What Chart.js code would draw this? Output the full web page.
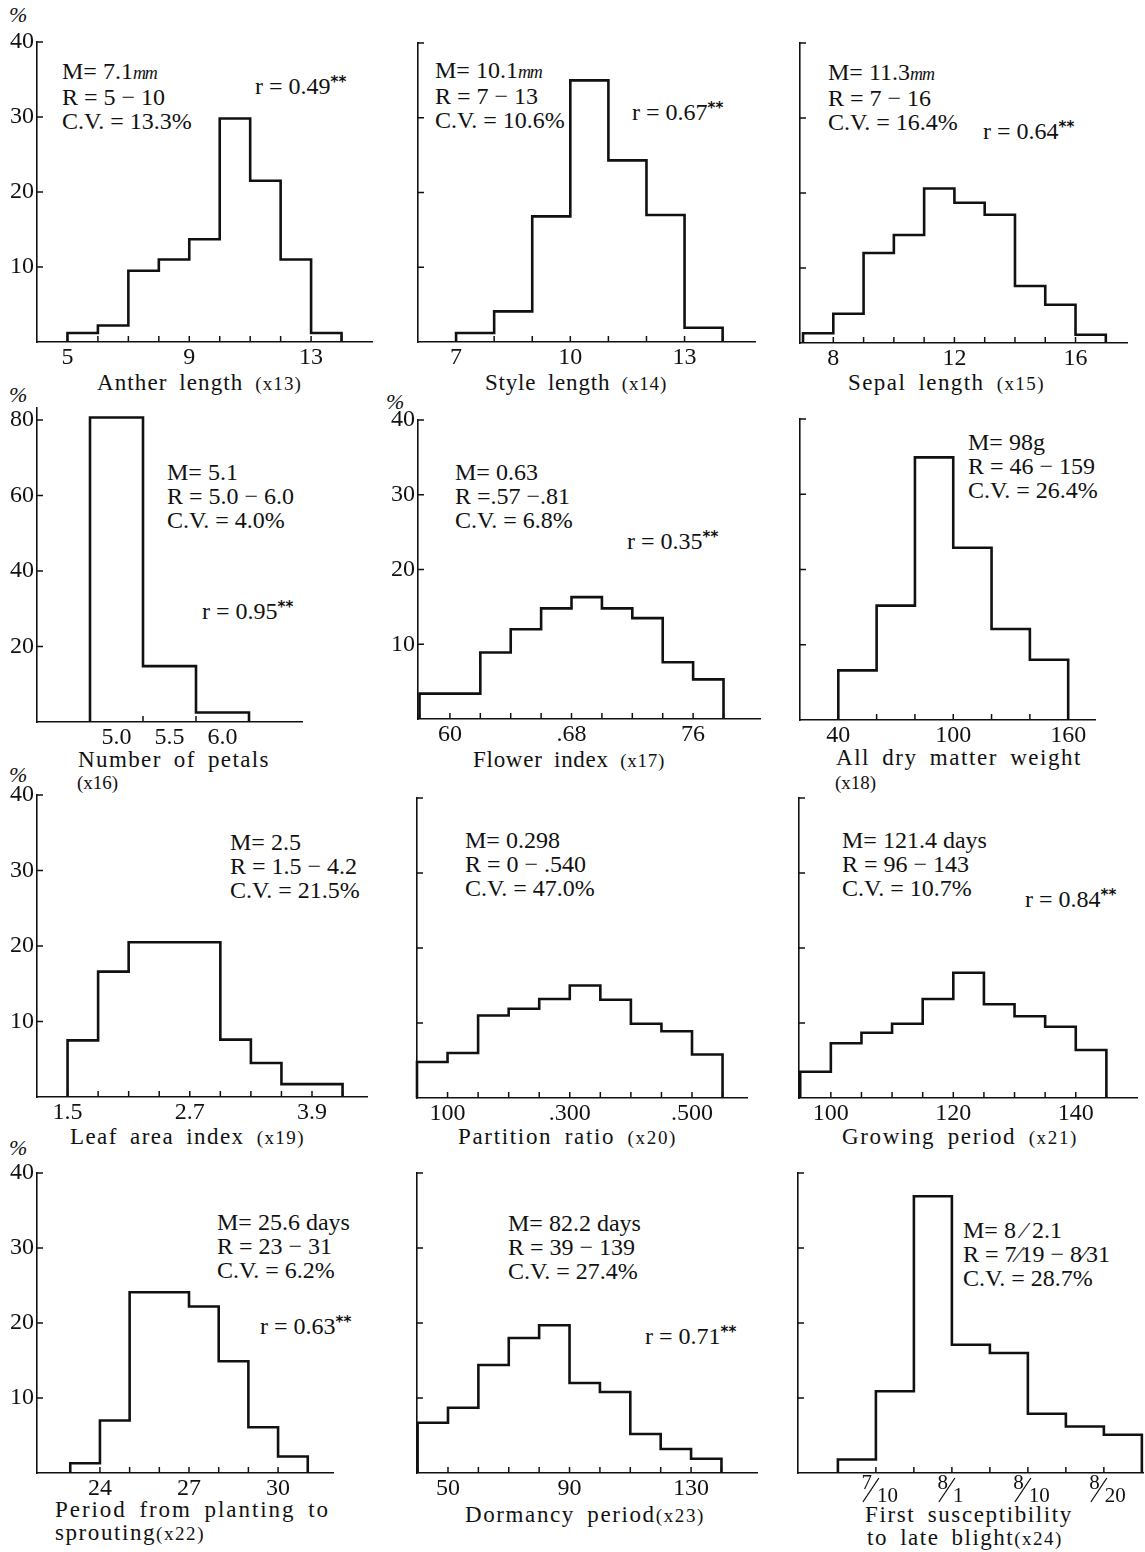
<!DOCTYPE html>
<html>
<head>
<meta charset="utf-8">
<title>Frequency distributions x13 - x24</title>
<script src="https://cdn.jsdelivr.net/npm/chart.js@4.4.0/dist/chart.umd.min.js"></script>
<style>
  body { margin: 0; background: #fff; width: 1145px; height: 1552px; position: relative; overflow: hidden;
         font-family: "Liberation Serif", "DejaVu Serif", serif; color: #111; }
  canvas { position: absolute; }
  .txt { position: absolute; white-space: nowrap; font-size: 24px; line-height: 24px; }
  .xt { position: absolute; white-space: nowrap; font-size: 23px; line-height: 24px; word-spacing: 5px; }
  .xt small { font-size: 19px; }
  .pct { position: absolute; font-size: 22px; font-style: italic; }
  .star { font-family: "DejaVu Sans", sans-serif; font-weight: bold; font-size: 15px; vertical-align: 7px; }
  .mm { font-style: italic; font-size: 18px; letter-spacing: -1px; }
</style>
</head>
<body>

<div class="pct" style="left:9px;top:2px">%</div>
<div class="pct" style="left:9px;top:382px">%</div>
<div class="pct" style="left:386px;top:389px">%</div>
<div class="pct" style="left:9px;top:762px">%</div>
<div class="pct" style="left:9px;top:1135px">%</div>

<!-- row 1 -->
<div class="txt" style="left:62px;top:59px">M= 7.1<span class="mm">mm</span><br>R = 5 − 10<br>C.V. = 13.3%</div>
<div class="txt" style="left:255px;top:70px">r = 0.49<span class="star">**</span></div>
<div class="txt" style="left:435px;top:58px">M= 10.1<span class="mm">mm</span><br>R = 7 − 13<br>C.V. = 10.6%</div>
<div class="txt" style="left:632px;top:96px">r = 0.67<span class="star">**</span></div>
<div class="txt" style="left:828px;top:60px">M= 11.3<span class="mm">mm</span><br>R = 7 − 16<br>C.V. = 16.4%</div>
<div class="txt" style="left:983px;top:115px">r = 0.64<span class="star">**</span></div>

<div class="xt" data-w="205" style="left:97px;top:371px">Anther length <small>(x13)</small></div>
<div class="xt" data-w="182" style="left:485px;top:371px">Style length <small>(x14)</small></div>
<div class="xt" data-w="197" style="left:848px;top:371px">Sepal length <small>(x15)</small></div>

<!-- row 2 -->
<div class="txt" style="left:167px;top:460px">M= 5.1<br>R = 5.0 − 6.0<br>C.V. = 4.0%</div>
<div class="txt" style="left:202px;top:595px">r = 0.95<span class="star">**</span></div>
<div class="txt" style="left:455px;top:460px">M= 0.63<br>R =.57 −.81<br>C.V. = 6.8%</div>
<div class="txt" style="left:627px;top:525px">r = 0.35<span class="star">**</span></div>
<div class="txt" style="left:968px;top:430px">M= 98g<br>R = 46 − 159<br>C.V. = 26.4%</div>

<div class="xt" data-w="192" style="left:78px;top:748px">Number of petals</div>
<div class="xt" style="left:77px;top:770px"><small>(x16)</small></div>
<div class="xt" data-w="192" style="left:473px;top:748px">Flower index <small>(x17)</small></div>
<div class="xt" data-w="246" style="left:836px;top:746px">All dry matter weight</div>
<div class="xt" style="left:835px;top:770px"><small>(x18)</small></div>

<!-- row 3 -->
<div class="txt" style="left:230px;top:830px">M= 2.5<br>R = 1.5 − 4.2<br>C.V. = 21.5%</div>
<div class="txt" style="left:465px;top:828px">M= 0.298<br>R = 0 − .540<br>C.V. = 47.0%</div>
<div class="txt" style="left:842px;top:828px">M= 121.4 days<br>R = 96 − 143<br>C.V. = 10.7%</div>
<div class="txt" style="left:1025px;top:883px">r = 0.84<span class="star">**</span></div>

<div class="xt" data-w="235" style="left:70px;top:1125px">Leaf area index <small>(x19)</small></div>
<div class="xt" data-w="219" style="left:458px;top:1125px">Partition ratio <small>(x20)</small></div>
<div class="xt" data-w="236" style="left:842px;top:1125px">Growing period <small>(x21)</small></div>

<!-- row 4 -->
<div class="txt" style="left:217px;top:1210px">M= 25.6 days<br>R = 23 − 31<br>C.V. = 6.2%</div>
<div class="txt" style="left:260px;top:1310px">r = 0.63<span class="star">**</span></div>
<div class="txt" style="left:508px;top:1211px">M= 82.2 days<br>R = 39 − 139<br>C.V. = 27.4%</div>
<div class="txt" style="left:645px;top:1320px">r = 0.71<span class="star">**</span></div>
<div class="txt" style="left:963px;top:1218px">M= 8 ⁄ 2.1<br>R = 7⁄19 − 8⁄31<br>C.V. = 28.7%</div>

<div class="xt" data-w="275" style="left:55px;top:1498px">Period from planting to</div>
<div class="xt" data-w="150" style="left:55px;top:1521px">sprouting<small>(x22)</small></div>
<div class="xt" data-w="240" style="left:465px;top:1503px">Dormancy period<small>(x23)</small></div>
<div class="xt" data-w="208" style="left:865px;top:1503px">First susceptibility</div>
<div class="xt" data-w="196" style="left:867px;top:1526px">to late blight<small>(x24)</small></div>

<script>
// Frequency (%) per class, bin edges, labelled x ticks

// x13 anther length
const antherEdges = [5, 6, 7, 8, 9, 10, 11, 12, 13, 14];
const antherPct = [1.2, 2.2, 9.5, 11.0, 13.7, 29.8, 21.5, 11.0, 1.2];
const antherTicks = [5, 9, 13];

// x14 style length
const styleEdges = [7, 8, 9, 10, 11, 12, 13, 14];
const stylePct = [1.2, 4.1, 16.8, 35.0, 24.3, 17.0, 1.9];
const styleTicks = [7, 10, 13];

// x15 sepal length
const sepalEdges = [7, 8, 9, 10, 11, 12, 13, 14, 15, 16, 17];
const sepalPct = [1.3, 3.9, 12.0, 14.4, 20.6, 18.7, 17.1, 7.6, 5.1, 1.1];
const sepalTicks = [8, 12, 16];

// x16 number of petals
const petalEdges = [4.75, 5.25, 5.75, 6.25];
const petalPct = [80.7, 14.8, 2.5];
const petalTicks = [5.0, 5.5, 6.0];
const petalLabels = ['5.0', '5.5', '6.0'];

// x17 flower index
const flowerEdges = [58, 60, 62, 64, 66, 68, 70, 72, 74, 76, 78];
const flowerPct = [3.4, 3.4, 8.9, 12.0, 14.8, 16.3, 14.8, 13.5, 7.6, 5.3];
const flowerTicks = [60, 68, 76];
const flowerLabels = ['60', '.68', '76'];

// x18 all dry matter weight
const dryEdges = [40, 60, 80, 100, 120, 140, 160];
const dryPct = [6.6, 15.2, 34.9, 22.9, 12.1, 8.0];
const dryTicks = [40, 100, 160];

// x19 leaf area index
const laiEdges = [1.5, 1.8, 2.1, 2.4, 2.7, 3.0, 3.3, 3.6, 3.9, 4.2];
const laiPct = [7.5, 16.6, 20.5, 20.5, 20.5, 7.6, 4.5, 1.7, 1.7];
const laiTicks = [1.5, 2.7, 3.9];

// x20 partition ratio
const partEdges = [0.05, 0.10, 0.15, 0.20, 0.25, 0.30, 0.35, 0.40, 0.45, 0.50, 0.55];
const partPct = [4.8, 6.0, 11.0, 11.9, 13.2, 15.0, 13.1, 9.9, 8.9, 5.8];
const partTicks = [0.1, 0.3, 0.5];
const partLabels = ['100', '.300', '.500'];

// x21 growing period
const growEdges = [95, 100, 105, 110, 115, 120, 125, 130, 135, 140, 145];
const growPct = [3.5, 7.3, 8.7, 9.9, 13.2, 16.7, 12.5, 10.9, 9.5, 6.4];
const growTicks = [100, 120, 140];

// x22 period from planting to sprouting
const sproutEdges = [23, 24, 25, 26, 27, 28, 29, 30, 31];
const sproutPct = [1.3, 7.0, 24.1, 24.1, 22.2, 14.9, 6.1, 2.2];
const sproutTicks = [24, 27, 30];

// x23 dormancy period
const dormEdges = [40, 50, 60, 70, 80, 90, 100, 110, 120, 130, 140];
const dormPct = [6.7, 8.7, 14.4, 18.0, 19.7, 12.0, 10.8, 5.2, 3.2, 1.9];
const dormTicks = [50, 90, 130];

// x24 first susceptibility to late blight (date classes)
const blightEdges = [0, 1, 2, 3, 4, 5, 6, 7, 8];
const blightPct = [1.8, 10.9, 36.9, 17.1, 16.0, 7.9, 6.2, 5.1];
const blightTicks = [1, 3, 5, 7];
const blightLabels = [['7', '10'], ['8', '1'], ['8', '10'], ['8', '20']];

const pctTicks = [10, 20, 30, 40];
const petalPctTicks = [20, 40, 60, 80];

// panel placement: plot area edges in page pixels
const panels = [
    { edges: antherEdges, pct: antherPct, ticks: antherTicks, xMin: 4, xMax: 15, yLabels: true,
      frame: { left: 37, right: 372, top: 42, base: 342 } },
    { edges: styleEdges, pct: stylePct, ticks: styleTicks, xMin: 6, xMax: 14.85,
      frame: { left: 418, right: 755, top: 43, base: 342 } },
    { edges: sepalEdges, pct: sepalPct, ticks: sepalTicks, xMin: 6.9, xMax: 17.7,
      frame: { left: 800, right: 1127, top: 43, base: 343 } },
    { edges: petalEdges, pct: petalPct, ticks: petalTicks, labels: petalLabels, xMin: 4.25, xMax: 6.75,
      yMax: 83.2, yTicks: petalPctTicks, yLabels: true,
      frame: { left: 37, right: 302, top: 408, base: 722 } },
    { edges: flowerEdges, pct: flowerPct, ticks: flowerTicks, labels: flowerLabels, xMin: 57.9, xMax: 80.4, yLabels: true,
      frame: { left: 418, right: 760, top: 420, base: 719 } },
    { edges: dryEdges, pct: dryPct, ticks: dryTicks, xMin: 20, xMax: 174,
      frame: { left: 800, right: 1095, top: 419, base: 720 } },
    { edges: laiEdges, pct: laiPct, ticks: laiTicks, xMin: 1.2, xMax: 4.44, yLabels: true,
      frame: { left: 37, right: 367, top: 795, base: 1097 } },
    { edges: partEdges, pct: partPct, ticks: partTicks, labels: partLabels, xMin: 0.05, xMax: 0.59,
      frame: { left: 417, right: 747, top: 798, base: 1098 } },
    { edges: growEdges, pct: growPct, ticks: growTicks, xMin: 94.8, xMax: 150,
      frame: { left: 799, right: 1137, top: 798, base: 1098 } },
    { edges: sproutEdges, pct: sproutPct, ticks: sproutTicks, xMin: 21.88, xMax: 31.85, yLabels: true,
      frame: { left: 37, right: 333, top: 1173, base: 1473 } },
    { edges: dormEdges, pct: dormPct, ticks: dormTicks, xMin: 39.8, xMax: 151.7,
      frame: { left: 417, right: 757, top: 1173, base: 1473 } },
    { edges: blightEdges, pct: blightPct, ticks: blightTicks, fractions: blightLabels, xMin: -1.05, xMax: 8.03,
      frame: { left: 798, right: 1143, top: 1173, base: 1473 } }
];

const INK = '#111';
const FONT = '"Liberation Serif", "DejaVu Serif", serif';

// outline of a histogram as a stepped line
function stepPoints(edges, pct) {
    const pts = [{ x: edges[0], y: 0 }];
    pct.forEach((v, i) => pts.push({ x: edges[i], y: v }));
    pts.push({ x: edges[edges.length - 1], y: pct[pct.length - 1] });
    pts.push({ x: edges[edges.length - 1], y: 0 });
    return pts;
}

// short inward tick marks, and the stacked date labels of x24
const innerTicks = {
    id: 'innerTicks',
    afterDraw(chart, args, opts) {
        const { ctx, scales: { x, y } } = chart;
        ctx.save();
        ctx.strokeStyle = INK;
        ctx.lineWidth = 1.5;
        ctx.beginPath();
        (opts.x || []).forEach(v => {
            const px = x.getPixelForValue(v);
            ctx.moveTo(px, y.bottom);
            ctx.lineTo(px, y.bottom - 6);
        });
        (opts.y || []).forEach(v => {
            const py = y.getPixelForValue(v);
            ctx.moveTo(x.left, py);
            ctx.lineTo(x.left + 6, py);
        });
        ctx.stroke();

        if (opts.fractions) {
            ctx.fillStyle = INK;
            ctx.font = '21px ' + FONT;
            ctx.textBaseline = 'middle';
            ctx.lineWidth = 1.3;
            opts.fractions.forEach((f, i) => {
                const px = x.getPixelForValue(opts.fracAt[i]);
                const by = y.bottom;
                ctx.textAlign = 'right';
                ctx.fillText(f[0], px - 4, by + 10);
                ctx.textAlign = 'left';
                ctx.fillText(f[1], px + 1, by + 23);
                ctx.beginPath();
                ctx.moveTo(px - 13, by + 29);
                ctx.lineTo(px + 3, by + 5);
                ctx.stroke();
            });
        }
        ctx.restore();
    }
};
Chart.register(innerTicks);

function makeChart(p) {
    const f = p.frame;
    const padL = 45, padT = 12, padR = 6, padB = 34;
    const w = f.right - f.left + padL + padR;
    const h = f.base - f.top + padT + padB;
    const canvas = document.createElement('canvas');
    canvas.width = w;
    canvas.height = h;
    canvas.style.width = w + 'px';
    canvas.style.height = h + 'px';
    canvas.style.left = (f.left - padL) + 'px';
    canvas.style.top = (f.top - padT) + 'px';
    document.body.appendChild(canvas);

    const yTicks = p.yTicks || pctTicks;
    const tickFont = { family: FONT, size: 24 };

    return new Chart(canvas, {
        type: 'line',
        data: {
            datasets: [{
                data: stepPoints(p.edges, p.pct),
                stepped: true,
                borderColor: INK,
                borderWidth: 2.6,
                borderJoinStyle: 'miter',
                pointRadius: 0,
                fill: false,
                clip: false
            }]
        },
        options: {
            responsive: false,
            animation: false,
            events: [],
            layout: { padding: { top: padT, right: padR, left: 0, bottom: 0 } },
            plugins: {
                legend: { display: false },
                tooltip: { enabled: false },
                innerTicks: { x: p.edges, y: yTicks, fractions: p.fractions, fracAt: p.ticks }
            },
            scales: {
                x: {
                    type: 'linear',
                    min: p.xMin,
                    max: p.xMax,
                    grid: { display: false, drawTicks: false },
                    border: { display: true, color: INK, width: 1.6 },
                    afterBuildTicks: s => { s.ticks = p.ticks.map(v => ({ value: v })); },
                    afterFit: s => { s.height = padB; s.paddingLeft = 0; s.paddingRight = 0; },
                    ticks: {
                        display: !p.fractions,
                        autoSkip: false,
                        maxRotation: 0,
                        padding: 1,
                        color: INK,
                        font: tickFont,
                        callback: (v, i) => p.labels ? p.labels[i] : String(v)
                    }
                },
                y: {
                    min: 0,
                    max: p.yMax || 40,
                    grid: { display: false, drawTicks: false },
                    border: { display: true, color: INK, width: 1.6 },
                    afterBuildTicks: s => { s.ticks = yTicks.map(v => ({ value: v })); },
                    afterFit: s => { s.width = padL; s.paddingTop = 0; s.paddingBottom = 0; },
                    ticks: {
                        display: !!p.yLabels,
                        padding: 3,
                        color: INK,
                        font: tickFont
                    }
                }
            }
        }
    });
}

// spread the axis titles over their printed width
function fitTitles() {
    document.querySelectorAll('.xt[data-w]').forEach(el => {
        const n = el.textContent.length;
        const extra = (+el.dataset.w - el.getBoundingClientRect().width) / n;
        el.style.letterSpacing = extra.toFixed(2) + 'px';
    });
}

fitTitles();
panels.forEach(makeChart);
</script>
</body>
</html>
